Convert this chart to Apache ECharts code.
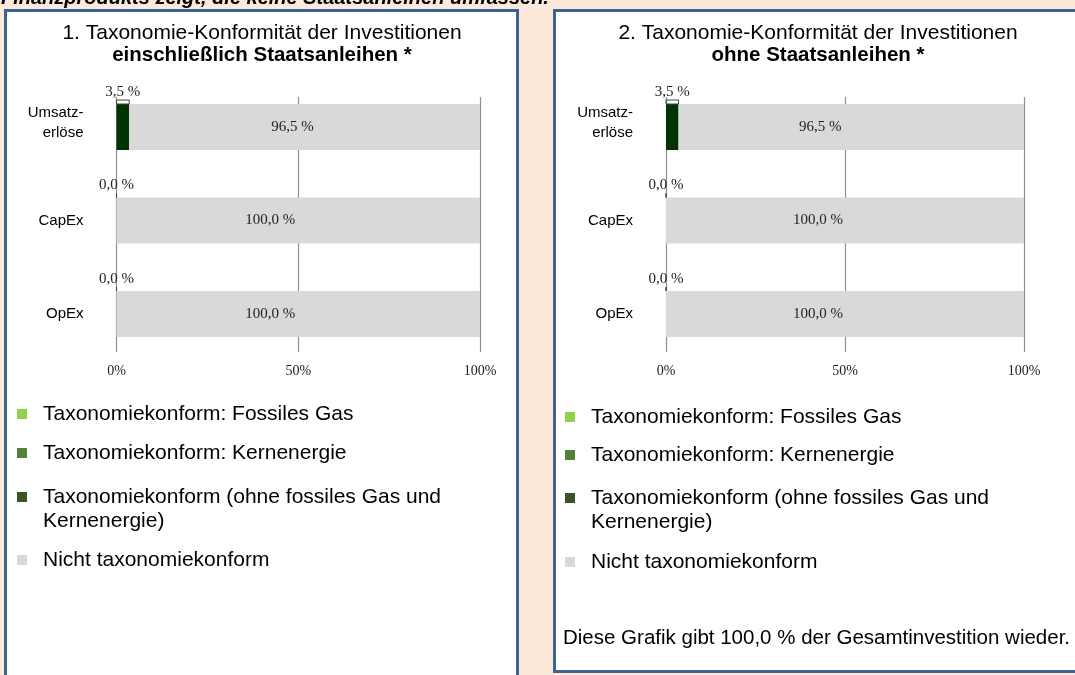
<!DOCTYPE html>
<html><head><meta charset="utf-8">
<script src="https://cdn.jsdelivr.net/npm/echarts@6/dist/echarts.min.js"></script>
<style>html,body{margin:0;padding:0;background:#FDE9D9;} #c{width:1075px;height:675px;}</style>
</head><body><div id="c"></div>
<script>
// ---- data ----
const categories = ['Umsatz-\nerlöse', 'CapEx', 'OpEx'];
const xTickLabels = ['0%', '50%', '100%'];
const seriesNames = ['Taxonomiekonform: Fossiles Gas', 'Taxonomiekonform: Kernenergie',
  'Taxonomiekonform (ohne fossiles Gas und Kernenergie)', 'Nicht taxonomiekonform'];
// Panel 1: einschließlich Staatsanleihen
const p1Gas = [0, 0, 0];
const p1Nuclear = [0, 0, 0];
const p1Aligned = [3.5, 0, 0];
const p1NotAligned = [96.5, 100, 100];
// Panel 2: ohne Staatsanleihen
const p2Gas = [0, 0, 0];
const p2Nuclear = [0, 0, 0];
const p2Aligned = [3.5, 0, 0];
const p2NotAligned = [96.5, 100, 100];

// ---- styles ----
const barColors = ['#92D050', '#548235', '#013301', '#D9D9D9'];
const legendColors = ['#92D050', '#548235', '#375623', '#D9D9D9'];
const catLabelExtraBottom = [8, 0, 0];
const SANS = 'Liberation Sans, Arial, sans-serif';
const SERIF = 'Liberation Serif, Times New Roman, serif';
const panels = [
  { left: 116.5, width: 363.5, data: [p1Gas, p1Nuclear, p1Aligned, p1NotAligned], shift: [-12, -28, -28],
    legendX: 17, legendY: [414, 453, 497, 560] },
  { left: 666, width: 358, data: [p2Gas, p2Nuclear, p2Aligned, p2NotAligned], shift: [-31, -27, -27],
    legendX: 565, legendY: [417, 455, 498, 562] }
];
const fmt = v => v.toFixed(1).replace('.', ',') + ' %';
const catFmt = (v, k) => v.split('\n').map(s => '{c|' + s + '}').join('\n') +
  (catLabelExtraBottom[k] ? '\n{s|}' : '');

const grid = [], xAxis = [], yAxis = [], series = [], legend = [];
panels.forEach((p, pi) => {
  const gl = grid.length;
  grid.push({ left: p.left, width: p.width, top: 97, height: 255 });
  grid.push({ left: p.left, width: p.width, top: 80.25, height: 280.5 });
  xAxis.push({ gridIndex: gl, type: 'value', min: 0, max: 100, interval: 50,
    axisLine: { show: false }, axisTick: { show: false },
    splitLine: { show: true, showMinLine: true, showMaxLine: true, lineStyle: { color: '#8f8f8f', width: 1.2 } },
    axisLabel: { margin: 12, fontFamily: SERIF, fontSize: 14, color: '#222',
      formatter: v => xTickLabels[Math.round(v / 50)] } });
  yAxis.push({ gridIndex: gl, type: 'category', data: categories, show: false });
  xAxis.push({ gridIndex: gl + 1, type: 'value', min: 0, max: 100, show: false });
  yAxis.push({ gridIndex: gl + 1, type: 'category', inverse: true, data: categories,
    axisLine: { show: false }, axisTick: { show: false }, splitLine: { show: false },
    axisLabel: { margin: 33, fontFamily: SANS, fontSize: 15, lineHeight: 20, color: '#000', align: 'right',
      formatter: catFmt,
      rich: { c: { fontFamily: SANS, fontSize: 15, lineHeight: 20, color: '#000', align: 'right' },
              s: { height: 8, lineHeight: 8 } } } });
  const xi = xAxis.length - 1, yi = yAxis.length - 1;
  p.data.forEach((arr, si) => {
    let data = arr;
    if (si === 2) {
      data = arr.map(v => ({ value: v, label: { show: true, position: 'top', distance: 0,
        formatter: q => '{v|' + fmt(q.value) + '}\n{b|}',
        rich: { v: { fontFamily: SERIF, fontSize: 15, color: '#222', lineHeight: 16, align: 'center' },
                b: { width: v / 100 * p.width, height: 4, borderColor: '#444', borderWidth: 1, align: 'center' } } } }));
    } else if (si === 3) {
      data = arr.map((v, k) => ({ value: v, label: { show: true, position: 'inside', offset: [p.shift[k], 0],
        fontFamily: SERIF, fontSize: 15, color: '#222', formatter: q => fmt(q.value) } }));
    }
    series.push({ type: 'bar', name: seriesNames[si], xAxisIndex: xi, yAxisIndex: yi, stack: 'p' + pi,
      barWidth: 46, data: data, itemStyle: { color: barColors[si] }, label: { show: false },
      emphasis: { disabled: true }, silent: true, animation: false });
  });
  seriesNames.forEach((n, i) => {
    const L = 24, two = i === 2;
    legend.push({ left: p.legendX, top: two ? p.legendY[i] - 1.5 * L : p.legendY[i] - L / 2,
      padding: 0, orient: 'vertical', selectedMode: false, icon: 'rect', itemWidth: 10, itemHeight: 10,
      data: [{ name: n, itemStyle: { color: legendColors[i] } }],
      formatter: nm => two ? '{s|}\n{a|Taxonomiekonform (ohne fossiles Gas und}\n{a|Kernenergie)}' : nm,
      textStyle: { fontFamily: SANS, fontSize: 21, color: '#000', lineHeight: L, padding: [0, 0, 0, 11],
        rich: { s: { height: L, lineHeight: L }, a: { fontFamily: SANS, fontSize: 21, color: '#000', lineHeight: L } } } });
  });
});

const txt = (x, y, text, o) => ({ type: 'text', x: x, y: y, z: 5,
  style: Object.assign({ text: text, fill: '#000', font: '21px ' + SANS, textAlign: 'center', textVerticalAlign: 'middle' }, o || {}) });

const graphic = [
  { type: 'rect', z: -10, shape: { x: 5.5, y: 10.5, width: 512, height: 700 }, style: { fill: '#fff', stroke: '#3B6496', lineWidth: 3 } },
  { type: 'rect', z: -10, shape: { x: 554.5, y: 10.5, width: 600, height: 661 }, style: { fill: '#fff', stroke: '#3B6496', lineWidth: 3 } },
  txt(1, 8, 'Finanzprodukts zeigt, die keine Staatsanleihen umfassen.', { font: 'italic bold 20px ' + SANS, textAlign: 'left', textVerticalAlign: 'bottom' }),
  txt(262, 33, '1. Taxonomie-Konformität der Investitionen'),
  txt(262, 55, 'einschließlich Staatsanleihen *', { font: 'bold 20.5px ' + SANS }),
  txt(818, 33, '2. Taxonomie-Konformität der Investitionen'),
  txt(818, 55, 'ohne Staatsanleihen *', { font: 'bold 20.5px ' + SANS }),
  txt(563, 638, 'Diese Grafik gibt 100,0 % der Gesamtinvestition wieder.', { textAlign: 'left', font: '20.5px ' + SANS })
];

const chart = echarts.init(document.getElementById('c'), null, { renderer: 'canvas' });
chart.setOption({ backgroundColor: '#FDE9D9', animation: false, graphic: graphic,
  grid: grid, xAxis: xAxis, yAxis: yAxis, series: series, legend: legend });
</script></body></html>
